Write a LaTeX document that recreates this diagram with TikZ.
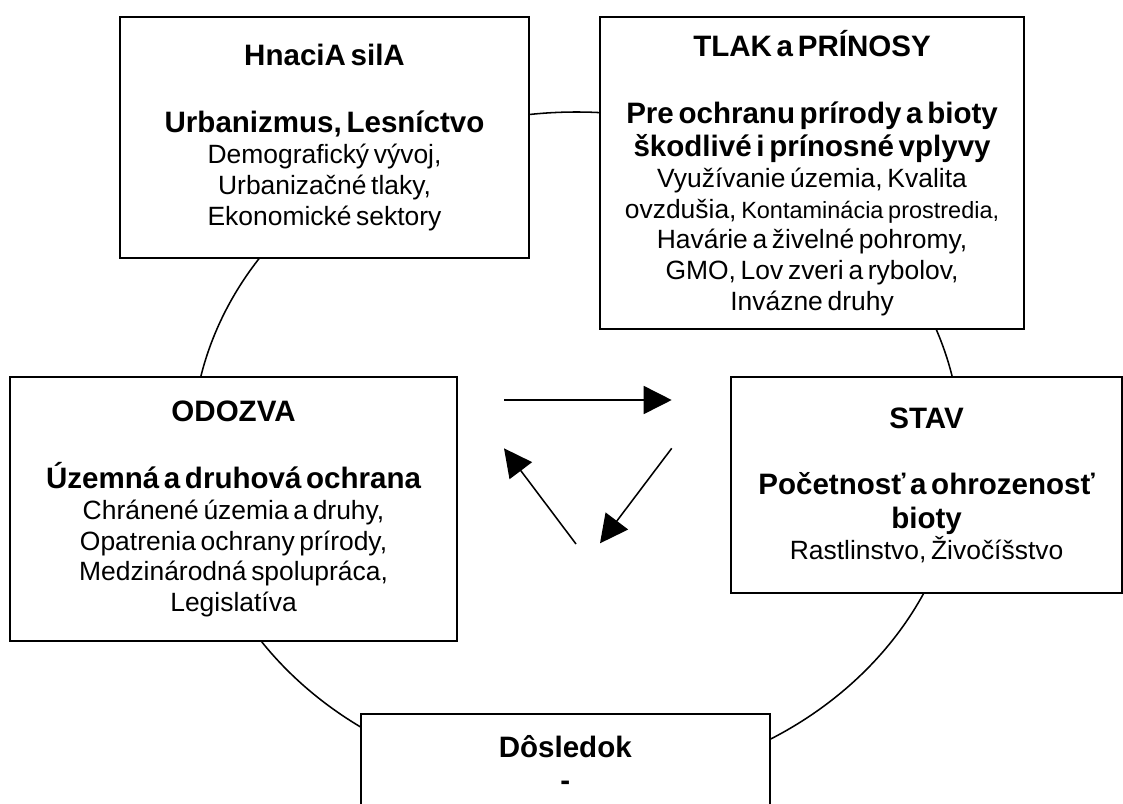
\documentclass[tikz,border=0pt]{standalone}
\usepackage{fontspec}
\setmainfont{Liberation Sans}
\usetikzlibrary{arrows.meta}

\newcommand{\boxhead}{\fontsize{21pt}{23.8pt}\selectfont\bfseries}
\newcommand{\boxbody}{\fontsize{18.8pt}{21.9pt}\selectfont}
\newcommand{\boxsmall}{\fontsize{16.7pt}{19.2pt}\selectfont}

\tikzset{
  panel/.style={draw, fill=white, line width=1.4pt, anchor=north west, align=center, inner xsep=0.1cm, inner ysep=0.1cm},
  ring/.style={line width=1.1pt},
  flow/.style={line width=1.1pt, -{Triangle[length=0.7cm,width=0.7cm]}}
}

\begin{document}
\begin{tikzpicture}[x=0.025cm,y=-0.025cm]
    \useasboundingbox (0,0) rectangle (1123,803);
    \clip (0,0) rectangle (1123,803);

    % Draw the cycle behind the boxes
    \draw[ring] (576.5,448.5) ellipse [x radius=384.5, y radius=336.5];

    \node[panel, minimum width=10.225cm, minimum height=6.025cm, text width=10.025cm] (hnacia) at (119,16)
        {{\boxhead HnaciA silA\\[\baselineskip] Urbanizmus, Lesníctvo\par}
         {\boxbody Demografický vývoj,\\ Urbanizačné tlaky,\\ Ekonomické sektory\par}};
    \node[panel, minimum width=10.6cm, minimum height=7.8cm, text width=10.4cm] (tlak) at (599,16)
        {{\boxhead TLAK a PRÍNOSY\\[\baselineskip] Pre ochranu prírody a bioty\\ škodlivé i prínosné vplyvy\par}
         {\boxbody Využívanie územia, Kvalita\\ ovzdušia, {\boxsmall Kontaminácia prostredia,}\\ Havárie a živelné pohromy,\\ GMO, Lov zveri a rybolov,\\ Invázne druhy\par}};
    \node[panel, minimum width=11.175cm, minimum height=6.6cm, text width=10.975cm] (odozva) at (9,376)
        {{\boxhead ODOZVA\\[\baselineskip] Územná a druhová ochrana\par}
         {\boxbody Chránené územia a druhy,\\ Opatrenia ochrany prírody,\\ Medzinárodná spolupráca,\\ Legislatíva\par}};
    \node[panel, minimum width=9.775cm, minimum height=5.4cm, text width=9.575cm] (stav) at (730,376)
        {{\boxhead STAV\\[\baselineskip] Početnosť a ohrozenosť\\ bioty\par}
         {\boxbody Rastlinstvo, Živočíšstvo\par}};
    \node[panel, minimum width=10.2125cm, minimum height=2.4625cm, text width=10.0125cm] (dosledok) at (360,712.7)
        {{\boxhead Dôsledok\\ -\par}};

    % Arrows in the middle
    \coordinate (toptail) at (504,400);
    \coordinate (tophead) at (671.7,400);
    \coordinate (righttail) at (671.7,448.3);
    \coordinate (righthead) at (600,543.3);
    \coordinate (lefttail) at (576,544);
    \coordinate (lefthead) at (504,448.3);
    \draw[flow] (toptail) -- (tophead);
    \draw[flow] (righttail) -- (righthead);
    \draw[flow] (lefttail) -- (lefthead);
\end{tikzpicture}
\end{document}
